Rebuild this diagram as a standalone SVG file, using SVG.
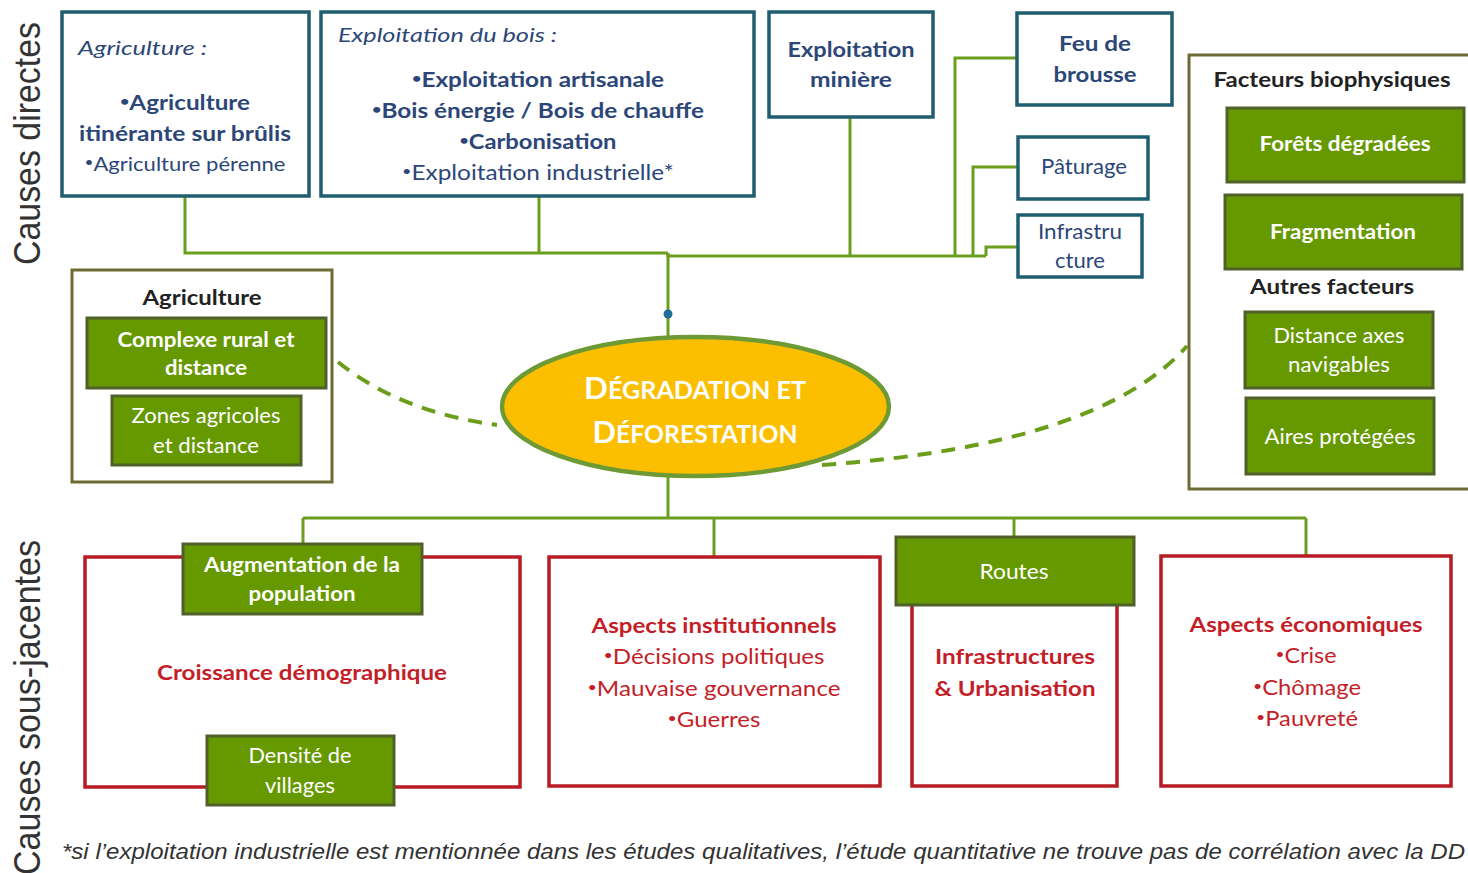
<svg xmlns="http://www.w3.org/2000/svg" width="1468" height="873" viewBox="0 0 1468 873">
<style>
.conn{fill:none;stroke:#6b9e1f;stroke-width:3}
.dash{fill:none;stroke:#6a9e1a;stroke-width:4;stroke-dasharray:14 10}
.tbox{fill:#fff;stroke:#1f5d6f;stroke-width:3.5}
.obox{fill:#fff;stroke:#6e6a34;stroke-width:3}
.gbox{fill:#669900;stroke:#50602a;stroke-width:3}
.rbox{fill:#fff;stroke:#b71c25;stroke-width:3.5}
.t{font-family:Lato,"Open Sans",sans-serif;font-size:21px;text-anchor:middle}
.s{font-size:20px}
.navy{fill:#2c4777}
.b{font-weight:bold}
.i{font-style:italic}
.w{fill:#fff}
.red{fill:#c41e28}
.blk{fill:#222}
.bu{font-size:14px;baseline-shift:4px}
.side{font-family:"Liberation Sans",Arial,sans-serif;font-size:36px;fill:#333}
</style>
<rect width="1468" height="873" fill="#fff"/>

<g id="labels">
<text class="side" transform="translate(40,143.5) rotate(-90)" text-anchor="middle" textLength="243" lengthAdjust="spacingAndGlyphs">Causes  directes</text>
<text class="side" transform="translate(40,540) rotate(-90)" text-anchor="end" textLength="335" lengthAdjust="spacingAndGlyphs">Causes sous-jacentes</text>
<text x="62" y="859" font-family="'Liberation Sans',Arial,sans-serif" font-size="22" font-style="italic" fill="#333" textLength="1403" lengthAdjust="spacingAndGlyphs">*si l’exploitation industrielle est mentionnée dans les études qualitatives, l’étude quantitative ne trouve pas de corrélation avec la DD</text>
</g>

<g id="connectors">
<polyline class="conn" points="185,196 185,253 668,253"/>
<line class="conn" x1="539" y1="196" x2="539" y2="253"/>
<polyline class="conn" points="668,253 668,256 986,256"/>
<line class="conn" x1="850" y1="117" x2="850" y2="256"/>
<polyline class="conn" points="1017,58 955,58 955,256"/>
<polyline class="conn" points="1018,167 973,167 973,256"/>
<polyline class="conn" points="986,256 986,247 1018,247"/>
<line class="conn" x1="668" y1="253" x2="668" y2="340"/>
<circle cx="668" cy="314" r="4.5" fill="#1f6f9a"/>
<line class="conn" x1="668" y1="474" x2="668" y2="518"/>
<line class="conn" x1="303" y1="518" x2="1306" y2="518"/>
<line class="conn" x1="303" y1="518" x2="303" y2="544"/>
<line class="conn" x1="714" y1="518" x2="714" y2="557"/>
<line class="conn" x1="1014" y1="518" x2="1014" y2="537"/>
<line class="conn" x1="1306" y1="518" x2="1306" y2="556"/>
<path class="dash" d="M338 362 Q400 412 497 425"/>
<path class="dash" d="M822 465 Q1100 445 1187 346"/>
</g>

<g id="agriculture">
<rect class="tbox" x="62" y="12" width="247" height="184"/>
<text class="t navy i s" x="78" y="55" style="text-anchor:start" textLength="129" lengthAdjust="spacingAndGlyphs">Agriculture :</text>
<text class="t navy b" x="185" y="110" textLength="130" lengthAdjust="spacingAndGlyphs"><tspan class="bu">•</tspan>Agriculture</text>
<text class="t navy b" x="185" y="141" textLength="212" lengthAdjust="spacingAndGlyphs">itinérante sur brûlis</text>
<text class="t navy s" x="185" y="171" textLength="201" lengthAdjust="spacingAndGlyphs"><tspan class="bu">•</tspan>Agriculture pérenne</text>
</g>

<g id="bois">
<rect class="tbox" x="321" y="12" width="433" height="184"/>
<text class="t navy i s" x="338" y="42" style="text-anchor:start" textLength="219" lengthAdjust="spacingAndGlyphs">Exploitation du bois :</text>
<text class="t navy b" x="538" y="87" textLength="252" lengthAdjust="spacingAndGlyphs"><tspan class="bu">•</tspan>Exploitation artisanale</text>
<text class="t navy b" x="538" y="118" textLength="332" lengthAdjust="spacingAndGlyphs"><tspan class="bu">•</tspan>Bois énergie / Bois de chauffe</text>
<text class="t navy b" x="538" y="149" textLength="157" lengthAdjust="spacingAndGlyphs"><tspan class="bu">•</tspan>Carbonisation</text>
<text class="t navy" x="538" y="180" textLength="272" lengthAdjust="spacingAndGlyphs"><tspan class="bu">•</tspan>Exploitation industrielle*</text>
</g>

<g id="miniere">
<rect class="tbox" x="769" y="12" width="164" height="105"/>
<text class="t navy b" x="851" y="57" textLength="127" lengthAdjust="spacingAndGlyphs">Exploitation</text>
<text class="t navy b" x="851" y="87" textLength="82" lengthAdjust="spacingAndGlyphs">minière</text>
</g>

<g id="feu">
<rect class="tbox" x="1017" y="13" width="155" height="92"/>
<text class="t navy b" x="1095" y="51" textLength="72" lengthAdjust="spacingAndGlyphs">Feu de</text>
<text class="t navy b" x="1095" y="82" textLength="83" lengthAdjust="spacingAndGlyphs">brousse</text>
</g>

<g id="paturage">
<rect class="tbox" x="1018" y="137" width="130" height="62"/>
<text class="t navy" x="1084" y="174" textLength="86" lengthAdjust="spacingAndGlyphs">Pâturage</text>
</g>

<g id="infrastructure">
<rect class="tbox" x="1018" y="215" width="124" height="62"/>
<text class="t navy" x="1080" y="239" textLength="84" lengthAdjust="spacingAndGlyphs">Infrastru</text>
<text class="t navy" x="1080" y="268" textLength="50" lengthAdjust="spacingAndGlyphs">cture</text>
</g>

<g id="facteurs">
<rect class="obox" x="1189" y="55" width="290" height="434"/>
<text class="t blk b" x="1332" y="87" textLength="237" lengthAdjust="spacingAndGlyphs">Facteurs biophysiques</text>
<rect class="gbox" x="1227" y="108" width="237" height="74"/>
<text class="t w b" x="1345" y="151" textLength="171" lengthAdjust="spacingAndGlyphs">Forêts dégradées</text>
<rect class="gbox" x="1225" y="195" width="237" height="74"/>
<text class="t w b" x="1343" y="239" textLength="146" lengthAdjust="spacingAndGlyphs">Fragmentation</text>
<text class="t blk b" x="1332" y="294" textLength="164" lengthAdjust="spacingAndGlyphs">Autres facteurs</text>
<rect class="gbox" x="1245" y="312" width="188" height="76"/>
<text class="t w" x="1339" y="343" textLength="131" lengthAdjust="spacingAndGlyphs">Distance axes</text>
<text class="t w" x="1339" y="372" textLength="102" lengthAdjust="spacingAndGlyphs">navigables</text>
<rect class="gbox" x="1246" y="398" width="188" height="76"/>
<text class="t w" x="1340" y="444" textLength="151" lengthAdjust="spacingAndGlyphs">Aires protégées</text>
</g>

<g id="agri-facteurs">
<rect class="obox" x="72" y="270" width="260" height="212"/>
<text class="t blk b" x="202" y="305" textLength="119" lengthAdjust="spacingAndGlyphs">Agriculture</text>
<rect class="gbox" x="87" y="318" width="239" height="70"/>
<text class="t w b" x="206" y="347" textLength="177" lengthAdjust="spacingAndGlyphs">Complexe rural et</text>
<text class="t w b" x="206" y="375" textLength="82" lengthAdjust="spacingAndGlyphs">distance</text>
<rect class="gbox" x="112" y="396" width="189" height="69"/>
<text class="t w" x="206" y="423" textLength="149" lengthAdjust="spacingAndGlyphs">Zones agricoles</text>
<text class="t w" x="206" y="453" textLength="106" lengthAdjust="spacingAndGlyphs">et distance</text>
</g>

<g id="degradation">
<ellipse cx="695.5" cy="406.5" rx="193.5" ry="69.5" fill="#fbbf00" stroke="#6e9a35" stroke-width="4.5"/>
<text class="t w b" x="695" y="399" textLength="222" lengthAdjust="spacingAndGlyphs"><tspan font-size="30">D</tspan><tspan font-size="24">ÉGRADATION ET</tspan></text>
<text class="t w b" x="695" y="443" textLength="205" lengthAdjust="spacingAndGlyphs"><tspan font-size="30">D</tspan><tspan font-size="24">ÉFORESTATION</tspan></text>
</g>

<g id="croissance">
<rect class="rbox" x="85" y="557" width="435" height="230"/>
<rect class="gbox" x="183" y="544" width="239" height="70"/>
<text class="t w b" x="302" y="572" textLength="196" lengthAdjust="spacingAndGlyphs">Augmentation de la</text>
<text class="t w b" x="302" y="601" textLength="107" lengthAdjust="spacingAndGlyphs">population</text>
<text class="t red b" x="302" y="680" textLength="290" lengthAdjust="spacingAndGlyphs">Croissance démographique</text>
<rect class="gbox" x="207" y="736" width="187" height="69"/>
<text class="t w" x="300" y="763" textLength="103" lengthAdjust="spacingAndGlyphs">Densité de</text>
<text class="t w" x="300" y="793" textLength="70" lengthAdjust="spacingAndGlyphs">villages</text>
</g>

<g id="institutionnels">
<rect class="rbox" x="549" y="557" width="331" height="229"/>
<text class="t red b" x="714" y="633" textLength="245" lengthAdjust="spacingAndGlyphs">Aspects institutionnels</text>
<text class="t red" x="714" y="664" textLength="221" lengthAdjust="spacingAndGlyphs"><tspan class="bu">•</tspan>Décisions politiques</text>
<text class="t red" x="714" y="696" textLength="253" lengthAdjust="spacingAndGlyphs"><tspan class="bu">•</tspan>Mauvaise gouvernance</text>
<text class="t red" x="714" y="727" textLength="93" lengthAdjust="spacingAndGlyphs"><tspan class="bu">•</tspan>Guerres</text>
</g>

<g id="infrastructures">
<rect class="rbox" x="912" y="600" width="205" height="186"/>
<rect class="gbox" x="896" y="537" width="238" height="68"/>
<text class="t w" x="1014" y="579" textLength="69" lengthAdjust="spacingAndGlyphs">Routes</text>
<text class="t red b" x="1015" y="664" textLength="160" lengthAdjust="spacingAndGlyphs">Infrastructures</text>
<text class="t red b" x="1015" y="696" textLength="161" lengthAdjust="spacingAndGlyphs">&amp; Urbanisation</text>
</g>

<g id="economiques">
<rect class="rbox" x="1161" y="556" width="290" height="230"/>
<text class="t red b" x="1306" y="632" textLength="233" lengthAdjust="spacingAndGlyphs">Aspects économiques</text>
<text class="t red" x="1306" y="663" textLength="61" lengthAdjust="spacingAndGlyphs"><tspan class="bu">•</tspan>Crise</text>
<text class="t red" x="1307" y="695" textLength="108" lengthAdjust="spacingAndGlyphs"><tspan class="bu">•</tspan>Chômage</text>
<text class="t red" x="1307" y="726" textLength="102" lengthAdjust="spacingAndGlyphs"><tspan class="bu">•</tspan>Pauvreté</text>
</g>
</svg>
